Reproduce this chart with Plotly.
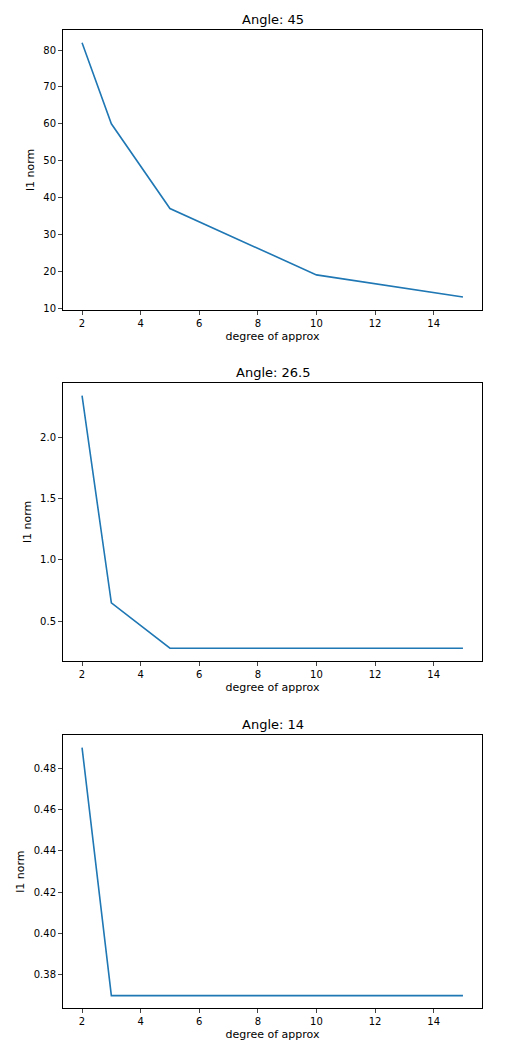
import plotly.graph_objects as go

degree = [2, 3, 5, 10, 15]
angles = ["45", "26.5", "14"]
norm_45 = [82, 60, 37, 19, 13]
norm_265 = [2.34, 0.65, 0.28, 0.28, 0.28]
norm_14 = [0.49, 0.37, 0.37, 0.37, 0.37]
series = [norm_45, norm_265, norm_14]

domains = [[0.714, 1.0], [0.355, 0.639], [0.0, 0.279]]
yticks = [dict(dtick=10), dict(tick0=0.5, dtick=0.5, tickformat=".1f"),
          dict(tick0=0.38, dtick=0.02, tickformat=".2f")]

fig = go.Figure()
for i, (ang, vals) in enumerate(zip(angles, series)):
    n = "" if i == 0 else str(i + 1)
    fig.add_trace(go.Scatter(x=degree, y=vals, mode="lines", line=dict(color="#1f77b4", width=1.6),
                             xaxis="x" + n, yaxis="y" + n, showlegend=False))
    lo, hi = min(vals), max(vals)
    pad = (hi - lo) * 0.05
    ax = dict(showline=True, mirror=True, linecolor="black", linewidth=1, ticks="outside",
              ticklen=4, showgrid=False, zeroline=False, automargin=False,
              tickfont=dict(size=10, color="black"))
    fig.layout["xaxis" + n] = dict(ax, domain=[0, 1], range=[1.35, 15.65], dtick=2, anchor="y" + n,
                                   title=dict(text="degree of approx", font=dict(size=11), standoff=4))
    fig.layout["yaxis" + n] = dict(ax, domain=domains[i], range=[lo - pad, hi + pad], anchor="x" + n,
                                   title=dict(text="l1 norm", font=dict(size=11), standoff=6), **yticks[i])
    fig.add_annotation(text="Angle: " + ang, xref="paper", yref="paper", x=0.5, y=domains[i][1],
                       yanchor="bottom", showarrow=False, font=dict(size=13, color="black"), yshift=1)

fig.update_layout(width=522, height=1064, margin=dict(l=55, r=48, t=22, b=64),
                  plot_bgcolor="white", paper_bgcolor="white",
                  font=dict(family="DejaVu Sans", color="black"))
fig.write_html("out.html")
